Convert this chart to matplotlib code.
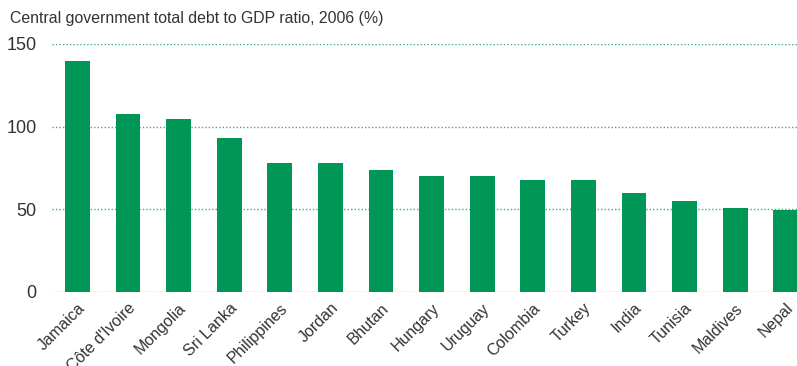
import matplotlib.pyplot as plt
import numpy as np

countries = ["Jamaica", "Côte d'Ivoire", "Mongolia", "Sri Lanka", "Philippines",
             "Jordan", "Bhutan", "Hungary", "Uruguay", "Colombia", "Turkey",
             "India", "Tunisia", "Maldives", "Nepal"]
debt_ratio = [139.5, 107.5, 104.5, 93, 78, 78, 74, 70, 70, 68, 68, 60, 55, 51, 49.5]
yticks = [0, 50, 100, 150]

plt.rcParams['font.family'] = ['Liberation Sans', 'DejaVu Sans']

fig = plt.figure(figsize=(7.97, 3.66), dpi=100)
ax = fig.add_axes([52 / 797, 1 - 292 / 366, 1 - 52 / 797, (292 - 44) / 366])

x = np.arange(len(countries))
ax.bar(x, debt_ratio, width=0.49, color='#009656', zorder=2)

ax.set_ylim(0, 150)
ax.set_xlim(-0.5, 14.22)
ax.set_yticks(yticks)
ax.set_yticklabels([str(t) for t in yticks], fontsize=13, color='#333333')
ax.set_xticks(x)
ax.set_xticklabels(countries, rotation=45, ha='right', rotation_mode='anchor',
                   fontsize=11.5, color='#333333')
ax.tick_params(axis='both', length=0)
ax.tick_params(axis='y', pad=11)
ax.tick_params(axis='x', pad=6)
ax.grid(axis='y', linestyle=(0, (1, 1.5)), color='#3aab84', linewidth=1, zorder=1)
ax.set_axisbelow(True)
for s in ax.spines.values():
    s.set_visible(False)

fig.text(10 / 797, 1 - 18 / 366, "Central government total debt to GDP ratio, 2006 (%)",
         fontsize=11.4, color='#333333', va='center', ha='left')

fig.savefig("out.png", dpi=100)
